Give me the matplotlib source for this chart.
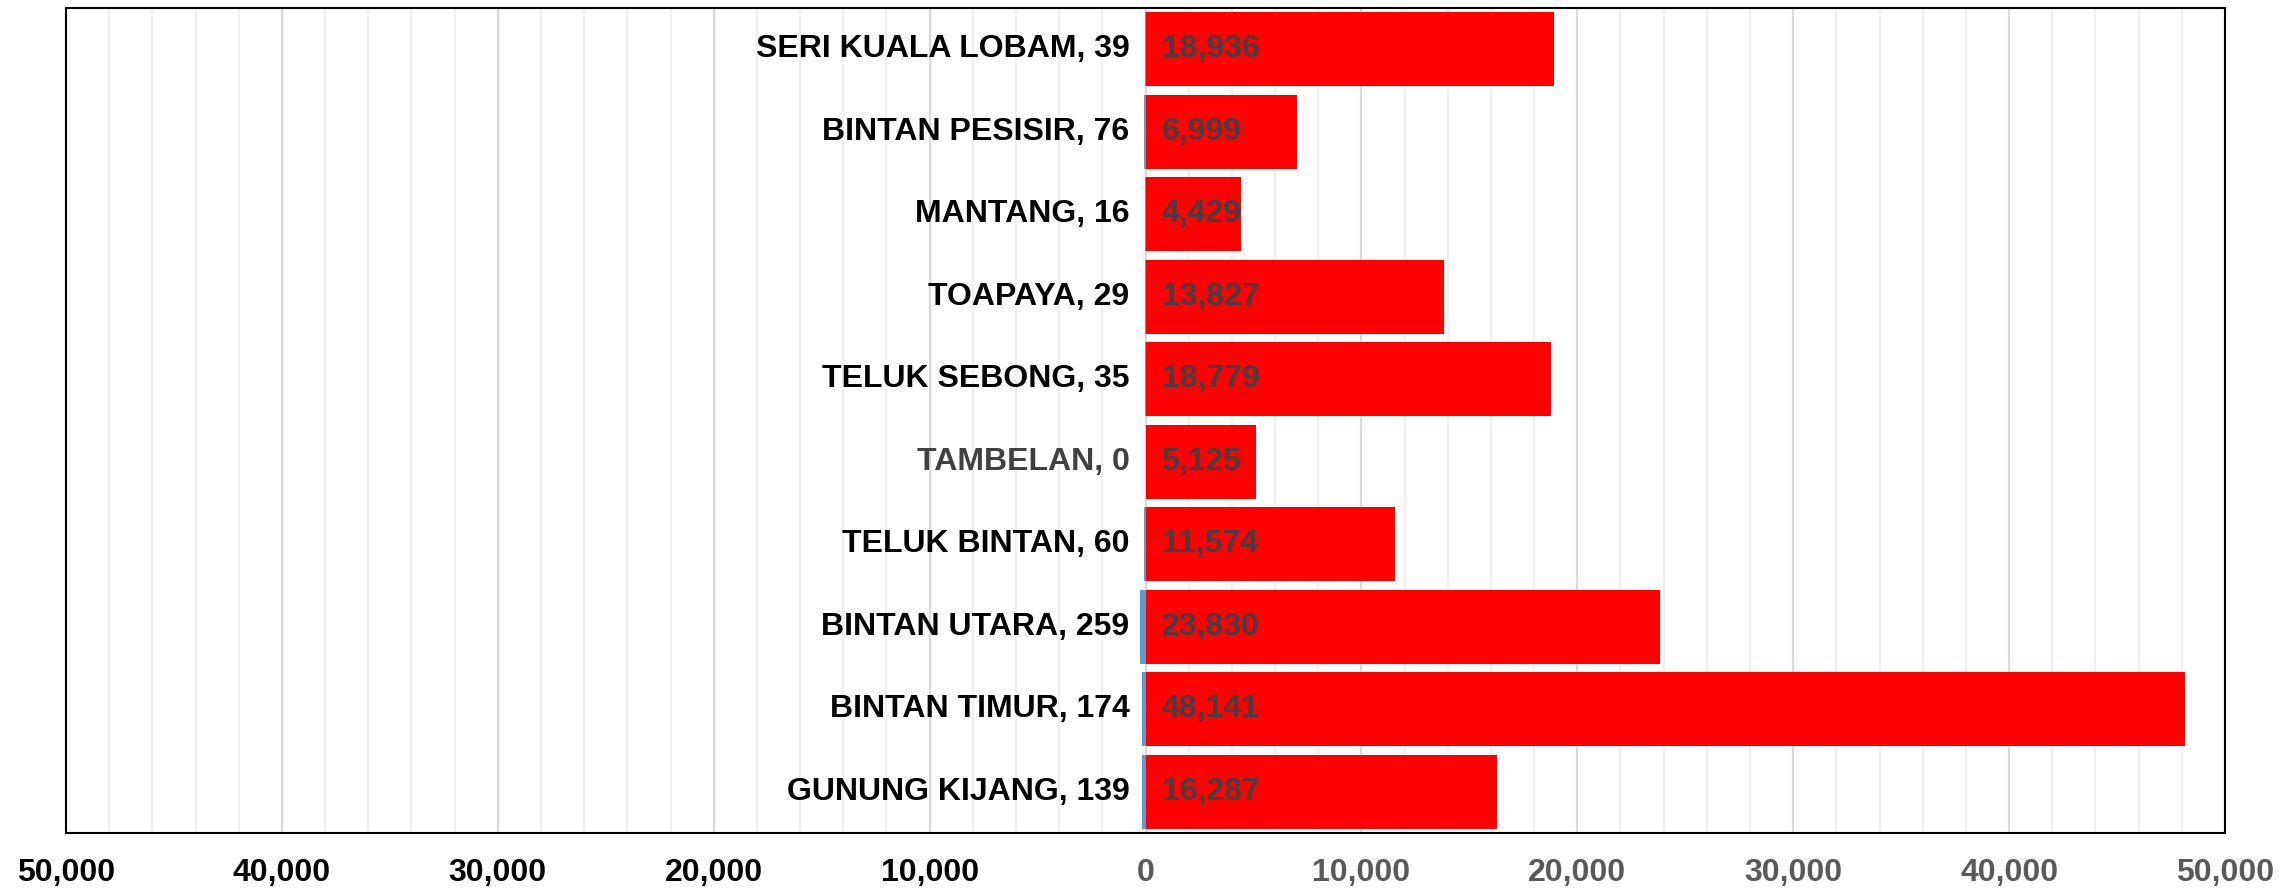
import matplotlib
matplotlib.use("Agg")
import matplotlib.pyplot as plt
from matplotlib.ticker import MultipleLocator, FuncFormatter

categories = ["SERI KUALA LOBAM", "BINTAN PESISIR", "MANTANG", "TOAPAYA", "TELUK SEBONG",
              "TAMBELAN", "TELUK BINTAN", "BINTAN UTARA", "BINTAN TIMUR", "GUNUNG KIJANG"]
left_values = [39, 76, 16, 29, 35, 0, 60, 259, 174, 139]
right_values = [18936, 6999, 4429, 13827, 18779, 5125, 11574, 23830, 48141, 16287]
tick_values = [-50000, -40000, -30000, -20000, -10000, 0, 10000, 20000, 30000, 40000, 50000]

FONT = ["Liberation Sans", "DejaVu Sans"]
plt.rcParams['font.family'] = FONT

fig = plt.figure(figsize=(22.78, 8.88), dpi=100)
ax = fig.add_axes([66/2278, 55/888, (2225-66)/2278, (880-55)/888])

n = len(categories)
ys = list(range(n))
bh = 0.9
ax.barh(ys, [-v for v in left_values], height=bh, color="#5B9BD5", zorder=3)
ax.barh(ys, right_values, height=bh, color="#FF0000", zorder=3)

ax.set_xlim(-50000, 50000)
ax.set_ylim(n - 0.5, -0.5)

ax.xaxis.set_major_locator(MultipleLocator(10000))
ax.xaxis.set_minor_locator(MultipleLocator(2000))
ax.grid(which="major", axis="x", color="#d9d9d9", linewidth=1.6, zorder=0)
ax.grid(which="minor", axis="x", color="#f0f0f0", linewidth=1.6, zorder=0)
ax.set_xticks(tick_values)
ax.xaxis.set_major_formatter(FuncFormatter(lambda v, p: f"{abs(int(v)):,}"))
ax.tick_params(axis="x", which="both", length=0, pad=18, labelsize=23)
for lbl, v in zip(ax.get_xticklabels(), tick_values):
    lbl.set_fontweight("bold")
    lbl.set_color("#000000" if v < 0 else "#595959")
ax.set_yticks([])

for sp in ax.spines.values():
    sp.set_color("#000000")
    sp.set_linewidth(1.5)

# pixel offsets converted through the axis scale
px_per_unit = ((2225 - 66)) / 100000.0
off_cat = 16 / px_per_unit
off_val = 16 / px_per_unit

for y, c, lv, rv in zip(ys, categories, left_values, right_values):
    ax.text(-off_cat, y, f"{c}, {lv}", ha="right", va="center", fontsize=23,
            fontweight="bold", color="#000000" if lv > 0 else "#404040", zorder=4)
    ax.text(off_val, y, f"{rv:,}", ha="left", va="center", fontsize=23,
            fontweight="bold", color="#404040", zorder=4)

fig.savefig("out.png", dpi=100)
